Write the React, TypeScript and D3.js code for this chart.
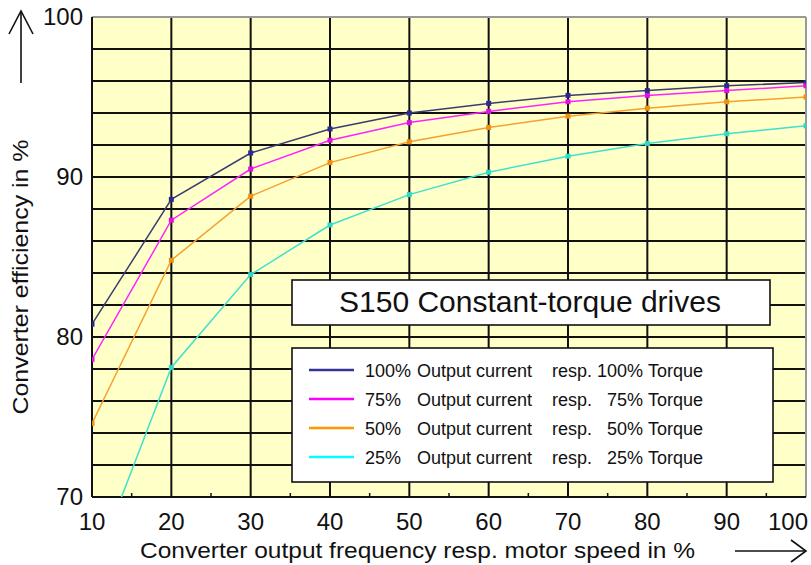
import React from "react";
import * as d3 from "d3";

const speeds = [10, 20, 30, 40, 50, 60, 70, 80, 90, 100];
const eff100 = [80.8, 88.6, 91.5, 93.0, 94.0, 94.6, 95.1, 95.4, 95.7, 95.9];
const eff75 = [78.6, 87.3, 90.5, 92.3, 93.4, 94.1, 94.7, 95.1, 95.4, 95.7];
const eff50 = [74.6, 84.8, 88.8, 90.9, 92.2, 93.1, 93.8, 94.3, 94.7, 95.0];
const eff25 = [65.2, 78.1, 83.9, 87.0, 88.9, 90.3, 91.3, 92.1, 92.7, 93.2];

const xTicks = [10, 20, 30, 40, 50, 60, 70, 80, 90, 100];
const xMinor = [15, 25, 35, 45, 55, 65, 75, 85, 95];
const yLabels = [70, 80, 90, 100];
const yGrid = [72, 74, 76, 78, 80, 82, 84, 86, 88, 90, 92, 94, 96, 98];

const seriesNames = ["100%", "75%", "50%", "25%"];
const torqueNames = ["100%", "75%", "50%", "25%"];
const lineColors = ["#3c3c70", "#ff22ff", "#f5a030", "#40e0d0"];
const dotColors = ["#2a2a90", "#e010e0", "#f09010", "#30d8c8"];
const legendColors = ["#333399", "#ff00ff", "#ff9900", "#00ffff"];

const FONT = "Arial, 'Liberation Sans', sans-serif";

export default function App() {
  const W = 811, H = 565;
  const x = d3.scaleLinear().domain([10, 100]).range([92, 806]);
  const y = d3.scaleLinear().domain([70, 100]).range([497, 17]);
  const data = [eff100, eff75, eff50, eff25];
  const line = d3
    .line<number>()
    .x((_, i) => x(speeds[i]))
    .y((d) => y(d));

  const legendY = [370, 399, 428, 457];
  const LF = 18;

  return (
    <svg
      width={W}
      height={H}
      style={{ position: "absolute", left: 0, top: 0, background: "#fff" }}
      fontFamily={FONT}
    >
      <defs>
        <clipPath id="plotclip">
          <rect x={x(10)} y={y(100)} width={x(100) - x(10)} height={y(70) - y(100)} />
        </clipPath>
      </defs>
      <rect x={x(10)} y={y(100)} width={x(100) - x(10)} height={y(70) - y(100)} fill="#ffffc8" />
      {yGrid.map((v) => (
        <line key={"h" + v} x1={x(10)} x2={x(100)} y1={y(v)} y2={y(v)} stroke="#111" strokeWidth={2} />
      ))}
      {xTicks.slice(1, -1).map((v) => (
        <line key={"v" + v} x1={x(v)} x2={x(v)} y1={y(100)} y2={y(70)} stroke="#111" strokeWidth={2} />
      ))}
      {xMinor.map((v) => (
        <line key={"m" + v} x1={x(v)} x2={x(v)} y1={y(70)} y2={y(70) - 4} stroke="#111" strokeWidth={1.5} />
      ))}
      <line x1={x(10)} x2={x(100)} y1={y(100)} y2={y(100)} stroke="#999" strokeWidth={2} />
      <line x1={x(100)} x2={x(100)} y1={y(100)} y2={y(70)} stroke="#999" strokeWidth={2} />
      <line x1={x(10)} x2={x(10)} y1={y(100)} y2={y(70)} stroke="#111" strokeWidth={2} />
      <line x1={x(10)} x2={x(100)} y1={y(70)} y2={y(70)} stroke="#111" strokeWidth={2} />

      <g clipPath="url(#plotclip)">
        {data.map((s, k) => (
          <g key={"s" + k}>
            <path d={line(s) || ""} fill="none" stroke={lineColors[k]} strokeWidth={1.5} />
            {s.map((v, i) => (
              <rect
                key={i}
                x={x(speeds[i]) - 2.5}
                y={y(v) - 2.5}
                width={5}
                height={5}
                fill={dotColors[k]}
              />
            ))}
          </g>
        ))}
      </g>

      {/* Title box */}
      <rect x={292} y={280} width={478} height={45} fill="#fff" stroke="#111" strokeWidth={1.6} />
      <text x={530} y={312} textAnchor="middle" fontSize={30} fill="#111">
        S150 Constant-torque drives
      </text>

      {/* Legend box */}
      <rect x={292} y={348} width={481} height={134} fill="#fff" stroke="#111" strokeWidth={1.6} />
      {seriesNames.map((n, k) => (
        <g key={"l" + k}>
          <line x1={309} x2={354} y1={legendY[k]} y2={legendY[k]} stroke={legendColors[k]} strokeWidth={2.5} />
          <text x={365} y={legendY[k] + 7} fontSize={LF} fill="#111">{n}</text>
          <text x={417} y={legendY[k] + 7} fontSize={LF} fill="#111">Output current</text>
          <text x={552} y={legendY[k] + 7} fontSize={LF} fill="#111">resp.</text>
          <text x={643} y={legendY[k] + 7} fontSize={LF} fill="#111" textAnchor="end">{torqueNames[k]}</text>
          <text x={648} y={legendY[k] + 7} fontSize={LF} fill="#111">Torque</text>
        </g>
      ))}

      {/* Axis tick labels */}
      {yLabels.map((v) => (
        <text key={"yl" + v} x={83} y={y(v) + 8} textAnchor="end" fontSize={24} fill="#111">
          {v}
        </text>
      ))}
      {xTicks.map((v, i) => (
        <text
          key={"xl" + v}
          x={i === xTicks.length - 1 ? 808 : x(v)}
          y={530}
          textAnchor={i === xTicks.length - 1 ? "end" : "middle"}
          fontSize={24}
          fill="#111"
        >
          {v}
        </text>
      ))}

      {/* Axis titles */}
      <text x={140} y={558} fontSize={22} fill="#111" textLength={555} lengthAdjust="spacingAndGlyphs">
        Converter output frequency resp. motor speed in %
      </text>
      <text
        transform="translate(28,277) rotate(-90)"
        textAnchor="middle"
        fontSize={22}
        fill="#111"
        textLength={275}
        lengthAdjust="spacingAndGlyphs"
      >
        Converter efficiency in %
      </text>

      {/* Arrows */}
      <g stroke="#111" strokeWidth={1.6} fill="none">
        <line x1={735} x2={805} y1={551} y2={551} />
        <polyline points="791,540 806,551 791,562" />
        <line x1={21} x2={21} y1={83} y2={11} />
        <polyline points="9,34 21,11 33,34" />
      </g>
    </svg>
  );
}
